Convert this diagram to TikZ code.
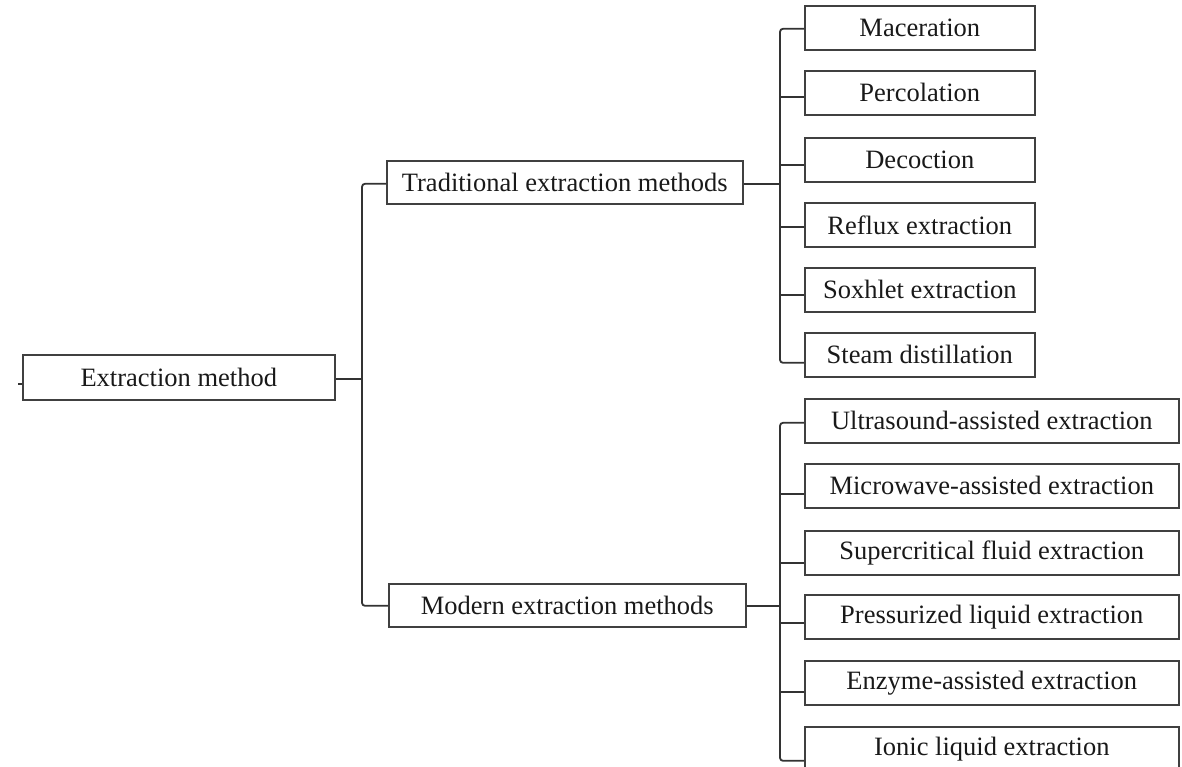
\documentclass[tikz,border=0pt]{standalone}
\usepackage{fontspec}
\setmainfont{Liberation Serif}
\begin{document}
\begin{tikzpicture}[x=1pt,y=-1pt,
  box/.style={draw=black!75,line width=1.6pt,anchor=north west,inner sep=0pt,
    minimum height=44pt,text=black!90,font=\fontsize{26.5}{30}\selectfont},
  tleaf/.style={box,minimum width=230pt},
  mleaf/.style={box,minimum width=374pt},
  conn/.style={draw=black!80,line width=1.8pt,rounded corners=3pt}]
\useasboundingbox (0,0) rectangle (1182,766);
\clip (0,0) rectangle (1182,766);
\node[box,minimum width=312pt,minimum height=45pt] (root) at (22,354) {Extraction method};
\node[box,minimum width=356pt,minimum height=43pt] (trad) at (386,160) {Traditional extraction methods};
\node[box,minimum width=357pt,minimum height=43pt] (mod) at (388,583) {Modern extraction methods};
\node[tleaf] (mac) at (804,5) {Maceration};
\node[tleaf] (per) at (804,70) {Percolation};
\node[tleaf] (dec) at (804,137) {Decoction};
\node[tleaf] (ref) at (804,202) {Reflux extraction};
\node[tleaf] (sox) at (804,267) {Soxhlet extraction};
\node[tleaf] (ste) at (804,332) {Steam distillation};
\node[mleaf] (ult) at (804,398) {Ultrasound-assisted extraction};
\node[mleaf] (mic) at (804,463) {Microwave-assisted extraction};
\node[mleaf] (sup) at (804,530) {Supercritical fluid extraction};
\node[mleaf] (pre) at (804,594) {Pressurized liquid extraction};
\node[mleaf] (enz) at (804,660) {Enzyme-assisted extraction};
\node[mleaf] (ion) at (804,726) {Ionic liquid extraction};
\coordinate (t0) at (362,0);
\coordinate (t1) at (780,0);
% left stub
\draw[conn] ([yshift=-6.5pt]root.west) -- ++(-4,0);
% root level
\draw[conn] ([yshift=-1.5pt]root.east) -- ([yshift=-1.5pt]root.east -| t0);
\draw[conn] ([yshift=-1.5pt]trad.west) -- ([yshift=-1.5pt]trad.west -| t0) |- ([yshift=-0.5pt]mod.west);
% traditional branch
\draw[conn] ([yshift=-1.5pt]trad.east) -- ([yshift=-1.5pt]trad.east -| t1);
\draw[conn] ([yshift=-1pt]mac.west) -- ([yshift=-1pt]mac.west -| t1) |- ([yshift=-8pt]ste.west);
\draw[conn] ([yshift=-4.5pt]per.west) -- ([yshift=-4.5pt]per.west -| t1);
\draw[conn] ([yshift=-5pt]dec.west) -- ([yshift=-5pt]dec.west -| t1);
\draw[conn] ([yshift=-2pt]ref.west) -- ([yshift=-2pt]ref.west -| t1);
\draw[conn] ([yshift=-5pt]sox.west) -- ([yshift=-5pt]sox.west -| t1);
% modern branch
\draw[conn] ([yshift=-0.5pt]mod.east) -- ([yshift=-0.5pt]mod.east -| t1);
\draw[conn] ([yshift=-2pt]ult.west) -- ([yshift=-2pt]ult.west -| t1) |- ([yshift=-12pt]ion.west);
\draw[conn] ([yshift=-8pt]mic.west) -- ([yshift=-8pt]mic.west -| t1);
\draw[conn] ([yshift=-10pt]sup.west) -- ([yshift=-10pt]sup.west -| t1);
\draw[conn] ([yshift=-6pt]pre.west) -- ([yshift=-6pt]pre.west -| t1);
\draw[conn] ([yshift=-9pt]enz.west) -- ([yshift=-9pt]enz.west -| t1);
\end{tikzpicture}
\end{document}
